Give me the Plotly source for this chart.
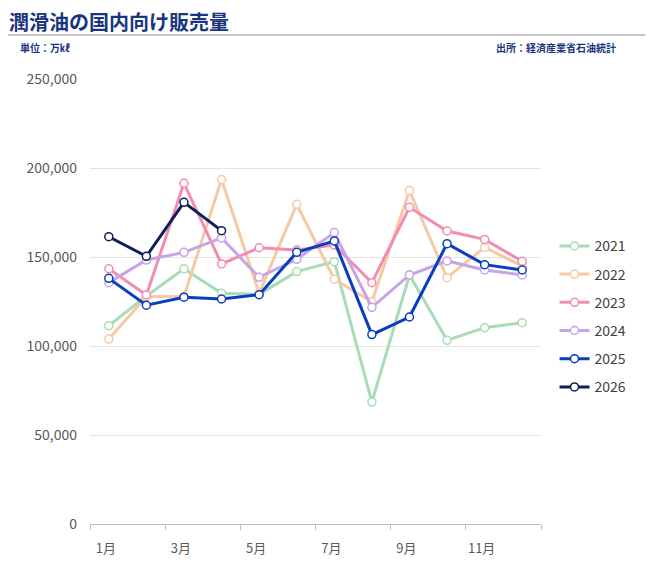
import plotly.graph_objects as go

months = list(range(1, 13))
tick_vals = [1, 3, 5, 7, 9, 11]
tick_text = ["1月", "3月", "5月", "7月", "9月", "11月"]

y2021 = [111400, 128100, 143400, 129600, 129000, 141800, 147400, 68500, 139900, 103200, 110300, 113100]
y2022 = [103900, 127700, 127900, 193600, 129600, 179600, 137500, 124900, 187300, 138400, 155400, 144900]
y2023 = [143400, 128650, 191400, 146100, 155200, 153900, 156700, 135600, 177900, 164600, 159900, 147600]
y2024 = [135600, 148300, 152600, 160700, 138600, 148700, 163700, 121700, 139900, 147800, 142700, 139900]
y2025 = [138000, 122900, 127400, 126400, 128800, 152600, 159000, 106400, 116300, 157500, 145700, 142700]
y2026 = [161400, 150400, 180700, 164800]

series = [
    ("2021", y2021, "#a9dbb6"),
    ("2022", y2022, "#f6c9a5"),
    ("2023", y2023, "#f28db2"),
    ("2024", y2024, "#c6a4e6"),
    ("2025", y2025, "#0b3dbf"),
    ("2026", y2026, "#0c1f5a"),
]

FONT = "Noto Sans CJK JP"
fig = go.Figure()
for name, vals, col in series:
    fig.add_trace(go.Scatter(
        x=months[:len(vals)], y=vals, name=name, mode="lines+markers",
        legendgroup=name,
        line=dict(color=col, width=3),
        marker=dict(symbol="circle", size=8, color="white",
                    line=dict(color=col, width=1.5)),
    ))

fig.update_layout(
    width=655, height=564,
    margin=dict(l=90, r=114, t=79, b=40),
    paper_bgcolor="white", plot_bgcolor="white",
    font=dict(family=FONT, color="#595959", size=14),
    showlegend=True,
    legend=dict(x=1.03, y=0.66, xanchor="left", yanchor="top",
                traceorder="grouped", tracegroupgap=7,
                font=dict(size=14, color="#404040"), itemwidth=30),
    xaxis=dict(range=[0.5, 12.5], tickvals=tick_vals, ticktext=tick_text,
               showgrid=False, zeroline=False, showline=True,
               linecolor="#bfbfbf", linewidth=1, ticks="", automargin=False,
               ticklabelstandoff=12, ticklabelshift=-3,
               minor=dict(ticks="outside", tick0=0.5, dtick=2, ticklen=5,
                          tickcolor="#bfbfbf", showgrid=False),
               tickfont=dict(size=13, color="#595959")),
    yaxis=dict(range=[0, 250000], dtick=50000, tickformat=",",
               showgrid=True, gridcolor="#e3e3e3", gridwidth=1,
               zeroline=False, showline=False, ticks="", automargin=False,
               ticklabelstandoff=12,
               tickfont=dict(size=14, color="#595959")),
    annotations=[
        dict(text="<b>潤滑油の国内向け販売量</b>", xref="paper", yref="paper",
             x=-0.185, y=(524 - 22) / 445, xanchor="left", yanchor="middle",
             showarrow=False, font=dict(size=20, color="#1a3580", family=FONT)),
        dict(text="<b>単位：万㎘</b>", xref="paper", yref="paper",
             x=(18 - 90) / 451, y=(524 - 48) / 445, xanchor="left", yanchor="middle",
             showarrow=False, font=dict(size=10, color="#1a3580", family=FONT)),
        dict(text="<b>出所：経済産業省石油統計</b>", xref="paper", yref="paper",
             x=(618 - 90) / 451, y=(524 - 48) / 445, xanchor="right", yanchor="middle",
             showarrow=False, font=dict(size=10, color="#1a3580", family=FONT)),
    ],
    shapes=[
        dict(type="line", xref="paper", yref="paper",
             x0=(8 - 90) / 451, x1=(645 - 90) / 451,
             y0=(524 - 35) / 445, y1=(524 - 35) / 445,
             line=dict(color="#8c8c8c", width=1)),
    ],
)

fig.write_html("out.html")
